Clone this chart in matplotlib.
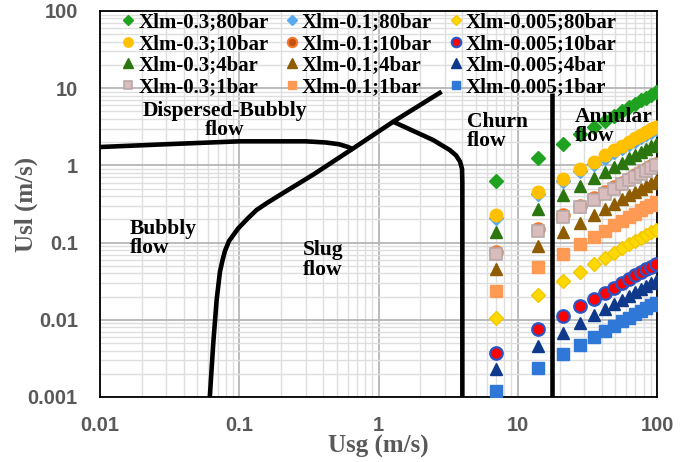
import matplotlib
matplotlib.use("Agg")
import matplotlib.pyplot as plt
from matplotlib.ticker import LogLocator, NullFormatter

# ---------------- data ----------------
usg = [7, 14, 21, 28, 35, 42, 49, 56, 63, 70, 77, 84, 91, 98]

# liquid superficial velocity for each Xlm / pressure combination
usl_x03_80 = [0.63, 1.26, 1.89, 2.52, 3.15, 3.78, 4.41, 5.04, 5.67, 6.30, 6.93, 7.56, 8.19, 8.82]
usl_x01_80 = [0.21, 0.42, 0.63, 0.84, 1.05, 1.26, 1.47, 1.68, 1.89, 2.10, 2.31, 2.52, 2.73, 2.94]
usl_x0005_80 = [0.0105, 0.021, 0.0315, 0.042, 0.0525, 0.063, 0.0735, 0.084, 0.0945, 0.105, 0.1155, 0.126, 0.1365, 0.147]
usl_x03_10 = [0.225, 0.449, 0.674, 0.899, 1.12, 1.35, 1.57, 1.80, 2.02, 2.25, 2.47, 2.70, 2.92, 3.15]
usl_x01_10 = [0.0749, 0.150, 0.225, 0.300, 0.375, 0.449, 0.524, 0.599, 0.674, 0.749, 0.824, 0.899, 0.974, 1.05]
usl_x0005_10 = [0.00375, 0.00749, 0.0112, 0.0150, 0.0187, 0.0225, 0.0262, 0.0300, 0.0337, 0.0375, 0.0412, 0.0449, 0.0487, 0.0524]
usl_x03_4 = [0.137, 0.273, 0.410, 0.546, 0.683, 0.819, 0.956, 1.09, 1.23, 1.37, 1.50, 1.64, 1.77, 1.91]
usl_x01_4 = [0.0455, 0.091, 0.137, 0.182, 0.228, 0.273, 0.319, 0.364, 0.410, 0.455, 0.501, 0.546, 0.592, 0.637]
usl_x0005_4 = [0.00228, 0.00455, 0.00683, 0.0091, 0.0114, 0.0137, 0.0159, 0.0182, 0.0205, 0.0228, 0.0250, 0.0273, 0.0296, 0.0319]
usl_x03_1 = [0.0714, 0.143, 0.214, 0.286, 0.357, 0.428, 0.500, 0.571, 0.643, 0.714, 0.785, 0.857, 0.928, 1.00]
usl_x01_1 = [0.0238, 0.0476, 0.0714, 0.0952, 0.119, 0.143, 0.167, 0.190, 0.214, 0.238, 0.262, 0.286, 0.309, 0.333]
usl_x0005_1 = [0.00119, 0.00238, 0.00357, 0.00476, 0.00595, 0.00714, 0.00833, 0.00952, 0.0107, 0.0119, 0.0131, 0.0143, 0.0155, 0.0167]

series_labels = [
    "Xlm-0.3;80bar", "Xlm-0.1;80bar", "Xlm-0.005;80bar",
    "Xlm-0.3;10bar", "Xlm-0.1;10bar", "Xlm-0.005;10bar",
    "Xlm-0.3;4bar", "Xlm-0.1;4bar", "Xlm-0.005;4bar",
    "Xlm-0.3;1bar", "Xlm-0.1;1bar", "Xlm-0.005;1bar",
]
series_values = [
    usl_x03_80, usl_x01_80, usl_x0005_80,
    usl_x03_10, usl_x01_10, usl_x0005_10,
    usl_x03_4, usl_x01_4, usl_x0005_4,
    usl_x03_1, usl_x01_1, usl_x0005_1,
]

# flow regime transition boundaries (Usg, Usl)
dispersed_usg = [0.01, 0.03, 0.1, 0.3, 0.42, 0.52, 0.6, 0.66]
dispersed_usl = [1.73, 1.88, 2.05, 2.05, 1.98, 1.88, 1.74, 1.62]

bubbly_slug_usg = [0.0615, 0.0625, 0.0651, 0.0688, 0.0727, 0.0760, 0.0790, 0.0845, 0.0984,
                   0.115, 0.133, 0.160, 0.196, 0.34, 0.658, 1.275, 2.84]
bubbly_slug_usl = [0.001, 0.0016, 0.005, 0.018, 0.042, 0.060, 0.078, 0.105, 0.153,
                   0.205, 0.264, 0.330, 0.414, 0.76, 1.66, 3.68, 9.02]

slug_churn_usg = [1.275, 2.47, 3.25, 3.6, 3.85, 3.98, 4.0, 4.0]
slug_churn_usl = [3.68, 2.13, 1.58, 1.35, 1.12, 0.9, 0.6, 0.001]

churn_annular_usg = [17.6, 17.6]
churn_annular_usl = [0.001, 8.7]

xtick_values = [0.01, 0.1, 1, 10, 100]
xtick_labels = ["0.01", "0.1", "1", "10", "100"]
ytick_values = [0.001, 0.01, 0.1, 1, 10, 100]
ytick_labels = ["0.001", "0.01", "0.1", "1", "10", "100"]

# ---------------- styles ----------------
styles = [
    dict(marker="D", mfc="#1FA21F", mec="#1FA21F", ms=7.0),
    dict(marker="D", mfc="#58AAEE", mec="#58AAEE", ms=7.0),
    dict(marker="D", mfc="#FFD800", mec="#F2C800", ms=7.0),
    dict(marker="o", mfc="#FFC000", mec="#FFC000", ms=9.0),
    dict(marker="o", mfc="#C8500E", mec="#F07A2E", ms=9.0, mew=1.5),
    dict(marker="o", mfc="#FF0000", mec="#2B55C4", ms=9.0, mew=1.6),
    dict(marker="^", mfc="#2B760E", mec="#2B760E", ms=9.0),
    dict(marker="^", mfc="#905C00", mec="#905C00", ms=9.0),
    dict(marker="^", mfc="#0F3A8C", mec="#0F3A8C", ms=9.0),
    dict(marker="s", mfc="#D9BDBD", mec="#B9A9A9", ms=8.0, mew=1.2),
    dict(marker="s", mfc="#FF9A55", mec="#FF9A55", ms=8.0),
    dict(marker="s", mfc="#2F78D8", mec="#2F78D8", ms=8.0),
]

serif = "Liberation Serif"
sans = "Liberation Sans"
gray = "#595959"

fig = plt.figure(figsize=(6.89, 4.62), dpi=100)
ax = fig.add_axes([0.1451, 0.1407, 0.8085, 0.8355])
ax.set_xscale("log")
ax.set_yscale("log")
ax.set_xlim(0.01, 100)
ax.set_ylim(0.001, 100)

# grid
ax.xaxis.set_minor_locator(LogLocator(base=10, subs=range(2, 10)))
ax.yaxis.set_minor_locator(LogLocator(base=10, subs=range(2, 10)))
ax.xaxis.set_minor_formatter(NullFormatter())
ax.yaxis.set_minor_formatter(NullFormatter())
ax.grid(which="minor", color="#DEDEDE", lw=1.0, zorder=0)
ax.grid(which="major", color="#B0B0B0", lw=1.2, zorder=0)
ax.set_axisbelow(True)

ax.set_xticks(xtick_values, xtick_labels)
ax.set_yticks(ytick_values, ytick_labels)
ax.tick_params(which="both", length=0)
ax.tick_params(axis="x", pad=14)
ax.tick_params(axis="y", pad=16)
for lab in ax.get_xticklabels() + ax.get_yticklabels():
    lab.set_fontfamily(sans)
    lab.set_fontweight("bold")
    lab.set_fontsize(14.5)
    lab.set_color(gray)

for sp in ax.spines.values():
    sp.set_color("black")
    sp.set_linewidth(1.3)

# regime boundaries
line_kw = dict(color="black", lw=3.3, solid_capstyle="butt", solid_joinstyle="round", zorder=3)
ax.plot(dispersed_usg, dispersed_usl, **line_kw)
ax.plot(bubbly_slug_usg, bubbly_slug_usl, **line_kw)
ax.plot(slug_churn_usg, slug_churn_usl, **line_kw)
ax.plot(churn_annular_usg, churn_annular_usl, **line_kw)

# data series
handles = []
for lab, vals, st in zip(series_labels, series_values, styles):
    st = dict(st)
    mew = st.pop("mew", 1.0)
    h, = ax.plot(usg, vals, ls="none", mew=mew, label=lab, zorder=4, **st)
    handles.append(h)

# legend laid out row by row (matplotlib fills columns first)
order = [0, 3, 6, 9, 1, 4, 7, 10, 2, 5, 8, 11]
leg = ax.legend([handles[i] for i in order], [series_labels[i] for i in order],
                ncol=3, loc="upper left", bbox_to_anchor=(0.035, 1.005),
                frameon=False, borderaxespad=0.0, borderpad=0.15,
                handlelength=0.55, handletextpad=0.2, columnspacing=0.85,
                labelspacing=0.08, markerscale=0.75,
                prop=dict(family=serif, weight="bold", size=15))
leg.set_zorder(6)

# regime labels
txt_kw = dict(family=serif, weight="bold", fontsize=15.5, color="black", zorder=7, linespacing=0.95)
ax.text(0.0789, 3.82, "Dispersed-Bubbly\nflow", ha="center", va="center", multialignment="center", **txt_kw)
ax.text(0.0164, 0.113, "Bubbly\nflow", ha="left", va="center", **txt_kw)
ax.text(0.286, 0.0596, "Slug\nflow", ha="left", va="center", **txt_kw)
ax.text(4.29, 2.75, "Churn\nflow", ha="left", va="center", **txt_kw)
ax.text(25.7, 3.19, "Annular\nflow", ha="left", va="center", **txt_kw)

ax.set_xlabel("Usg (m/s)", family=serif, weight="bold", fontsize=18, color=gray)
ax.set_ylabel("Usl (m/s)", family=serif, weight="bold", fontsize=18, color=gray)
ax.xaxis.set_label_coords(0.5, -0.098)
ax.yaxis.set_label_coords(-0.112, 0.5)

fig.savefig("out.png", dpi=100)
